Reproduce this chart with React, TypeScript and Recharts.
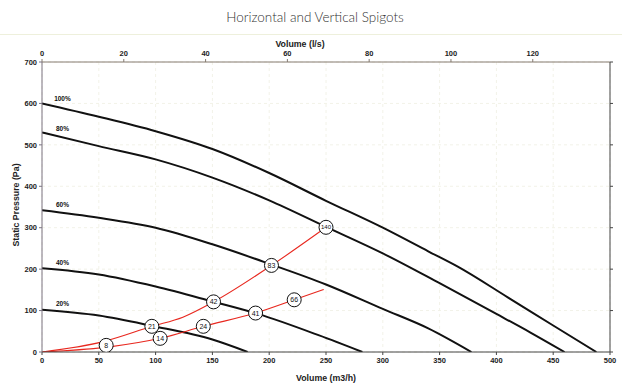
import React from "react";
import { ComposedChart, Line, Scatter, XAxis, YAxis, CartesianGrid } from "recharts";

// Fan curves: volume (m3/h) vs static pressure (Pa)
const fan100 = [
  { v: 0, p: 600 }, { v: 50, p: 568 }, { v: 100, p: 533 }, { v: 150, p: 490 }, { v: 200, p: 432 },
  { v: 250, p: 365 }, { v: 300, p: 300 }, { v: 340, p: 243 }, { v: 366, p: 206 }, { v: 410, p: 132 },
  { v: 450, p: 64 }, { v: 488, p: 0 },
];
const fan80 = [
  { v: 0, p: 530 }, { v: 50, p: 497 }, { v: 100, p: 465 }, { v: 150, p: 421 }, { v: 200, p: 366 },
  { v: 250, p: 302 }, { v: 300, p: 238 }, { v: 350, p: 166 }, { v: 400, p: 92 }, { v: 430, p: 47 },
  { v: 460, p: 0 },
];
const fan60 = [
  { v: 0, p: 342 }, { v: 50, p: 324 }, { v: 100, p: 300 }, { v: 150, p: 260 }, { v: 200, p: 213 },
  { v: 250, p: 163 }, { v: 300, p: 104 }, { v: 340, p: 57 }, { v: 378, p: 0 },
];
const fan40 = [
  { v: 0, p: 202 }, { v: 50, p: 187 }, { v: 100, p: 158 }, { v: 150, p: 122 }, { v: 190, p: 92 },
  { v: 244, p: 40 }, { v: 282, p: 0 },
];
const fan20 = [
  { v: 0, p: 102 }, { v: 50, p: 88 }, { v: 97, p: 63 }, { v: 150, p: 30 }, { v: 181, p: 0 },
];

// System (duct) curves
const systemUpper = [
  { v: 0, p: 0 }, { v: 54, p: 25 }, { v: 97, p: 62 }, { v: 124, p: 84 }, { v: 151, p: 121 },
  { v: 202, p: 209 }, { v: 250, p: 301 },
];
const systemLower = [
  { v: 0, p: 0 }, { v: 61, p: 13 }, { v: 104, p: 33 }, { v: 142, p: 62 }, { v: 188, p: 94 },
  { v: 222, p: 126 }, { v: 248, p: 151 },
];

// Circled operating-point markers
const markers = [
  { v: 56.5, p: 16, label: "8" },
  { v: 96.7, p: 62, label: "21" },
  { v: 104, p: 33, label: "14" },
  { v: 142, p: 62, label: "24" },
  { v: 151, p: 121, label: "42" },
  { v: 188, p: 94, label: "41" },
  { v: 222, p: 126, label: "66" },
  { v: 202, p: 209, label: "83" },
  { v: 250, p: 301, label: "140" },
];

// Curve speed labels
const curveLabels = [
  { v: 18, p: 611, label: "100%" },
  { v: 18, p: 538, label: "80%" },
  { v: 18, p: 355, label: "60%" },
  { v: 18, p: 215, label: "40%" },
  { v: 18, p: 116, label: "20%" },
];

const volumeTicks = [0, 50, 100, 150, 200, 250, 300, 350, 400, 450, 500];
const flowTicks = [0, 20, 40, 60, 80, 100, 120];
const pressureTicks = [0, 100, 200, 300, 400, 500, 600, 700];

const W = 622;
const H = 387;
const FONT = "'Liberation Sans', Arial, sans-serif";
const tickStyle = { fontSize: 7.5, fontWeight: 700, fill: "#222", fontFamily: FONT };

const renderMarker = (props: any) => {
  const { cx, cy, payload } = props;
  if (cx == null || cy == null) return <g />;
  const small = payload.label.length > 2;
  return (
    <g>
      <circle cx={cx} cy={cy} r={7} fill="#fff" stroke="#111" strokeWidth={1} />
      <text
        x={cx}
        y={cy}
        dy="0.35em"
        textAnchor="middle"
        fontSize={small ? 6 : 7}
        fontFamily={FONT}
        fill="#111"
      >
        {payload.label}
      </text>
    </g>
  );
};

const renderCurveLabel = (props: any) => {
  const { cx, cy, payload } = props;
  if (cx == null || cy == null) return <g />;
  return (
    <text x={cx} y={cy} dy="0.35em" textAnchor="middle" fontSize={6.5} fontWeight={700} fontFamily={FONT} fill="#111">
      {payload.label}
    </text>
  );
};

const fanLine = (data: any[], key: string) => (
  <Line
    key={key}
    xAxisId="bottom"
    yAxisId="left"
    data={data}
    dataKey="p"
    type="monotone"
    stroke="#111"
    strokeWidth={2}
    dot={false}
    activeDot={false}
    isAnimationActive={false}
  />
);

const redLine = (data: any[], key: string) => (
  <Line
    key={key}
    xAxisId="bottom"
    yAxisId="left"
    data={data}
    dataKey="p"
    type="monotone"
    stroke="#e8281f"
    strokeWidth={1.1}
    dot={false}
    activeDot={false}
    isAnimationActive={false}
  />
);

export default function App() {
  return (
    <div
      style={{
        position: "absolute",
        left: 0,
        top: 0,
        width: W,
        height: H,
        background: "#fff",
        overflow: "hidden",
        fontFamily: FONT,
      }}
    >
      <div style={{ position: "absolute", left: 0, top: 34, width: W, height: 1, background: "#eef0dc" }} />
      <div
        style={{
          position: "absolute",
          left: 0,
          top: 8,
          width: 630,
          textAlign: "center",
          fontSize: 13.5,
          fontWeight: 300,
          fontFamily: "'Lato', 'Open Sans', sans-serif",
          color: "#333",
          lineHeight: "18px",
        }}
      >
        Horizontal and Vertical Spigots
      </div>
      <div
        style={{
          position: "absolute",
          left: 270,
          top: 39,
          width: 60,
          textAlign: "center",
          fontSize: 8.8,
          fontWeight: 700,
          color: "#222",
          lineHeight: "10px",
          whiteSpace: "nowrap",
        }}
      >
        Volume (l/s)
      </div>
      <div
        style={{
          position: "absolute",
          left: 286,
          top: 373,
          width: 80,
          textAlign: "center",
          fontSize: 8.8,
          fontWeight: 700,
          color: "#222",
          lineHeight: "10px",
          whiteSpace: "nowrap",
        }}
      >
        Volume (m3/h)
      </div>
      <div
        style={{
          position: "absolute",
          left: 16 - 60,
          top: 205 - 5,
          width: 120,
          textAlign: "center",
          fontSize: 8.8,
          fontWeight: 700,
          color: "#222",
          lineHeight: "10px",
          whiteSpace: "nowrap",
          transform: "rotate(-90deg)",
        }}
      >
        Static Pressure (Pa)
      </div>
      <div style={{ position: "absolute", left: 0, top: 0 }}>
        <ComposedChart width={W} height={H} margin={{ top: 0, right: 0, bottom: 0, left: 0 }}>
          <CartesianGrid
            xAxisId="bottom"
            yAxisId="left"
            stroke="#f2f2e8"
            strokeDasharray="3 3"
            verticalValues={volumeTicks}
            horizontalValues={pressureTicks}
          />
          <XAxis
            xAxisId="bottom"
            dataKey="v"
            type="number"
            domain={[0, 500]}
            ticks={volumeTicks}
            height={35}
            tick={tickStyle}
            tickSize={3}
            tickMargin={3}
            stroke="#444"
            allowDataOverflow
          />
          <XAxis
            xAxisId="top"
            orientation="top"
            dataKey="ls"
            type="number"
            domain={[0, 500 / 3.6]}
            ticks={flowTicks}
            height={62}
            tick={tickStyle}
            tickSize={3}
            tickMargin={3}
            stroke="#857a70"
            allowDataOverflow
          />
          <YAxis
            yAxisId="left"
            type="number"
            domain={[0, 700]}
            ticks={pressureTicks}
            width={42}
            tick={tickStyle}
            tickSize={3}
            tickMargin={2}
            stroke="#7a7380"
            allowDataOverflow
          />
          <YAxis
            yAxisId="right"
            orientation="right"
            type="number"
            domain={[0, 700]}
            ticks={pressureTicks}
            width={12}
            tickSize={3}
            tickFormatter={() => ""}
            stroke="#444"
            allowDataOverflow
          />
          {fanLine(fan100, "f100")}
          {fanLine(fan80, "f80")}
          {fanLine(fan60, "f60")}
          {fanLine(fan40, "f40")}
          {fanLine(fan20, "f20")}
          {redLine(systemUpper, "sysU")}
          {redLine(systemLower, "sysL")}
          <Scatter
            xAxisId="bottom"
            yAxisId="left"
            data={markers}
            dataKey="p"
            shape={renderMarker}
            isAnimationActive={false}
          />
          <Scatter
            xAxisId="bottom"
            yAxisId="left"
            data={curveLabels}
            dataKey="p"
            shape={renderCurveLabel}
            isAnimationActive={false}
          />
        </ComposedChart>
      </div>
    </div>
  );
}
